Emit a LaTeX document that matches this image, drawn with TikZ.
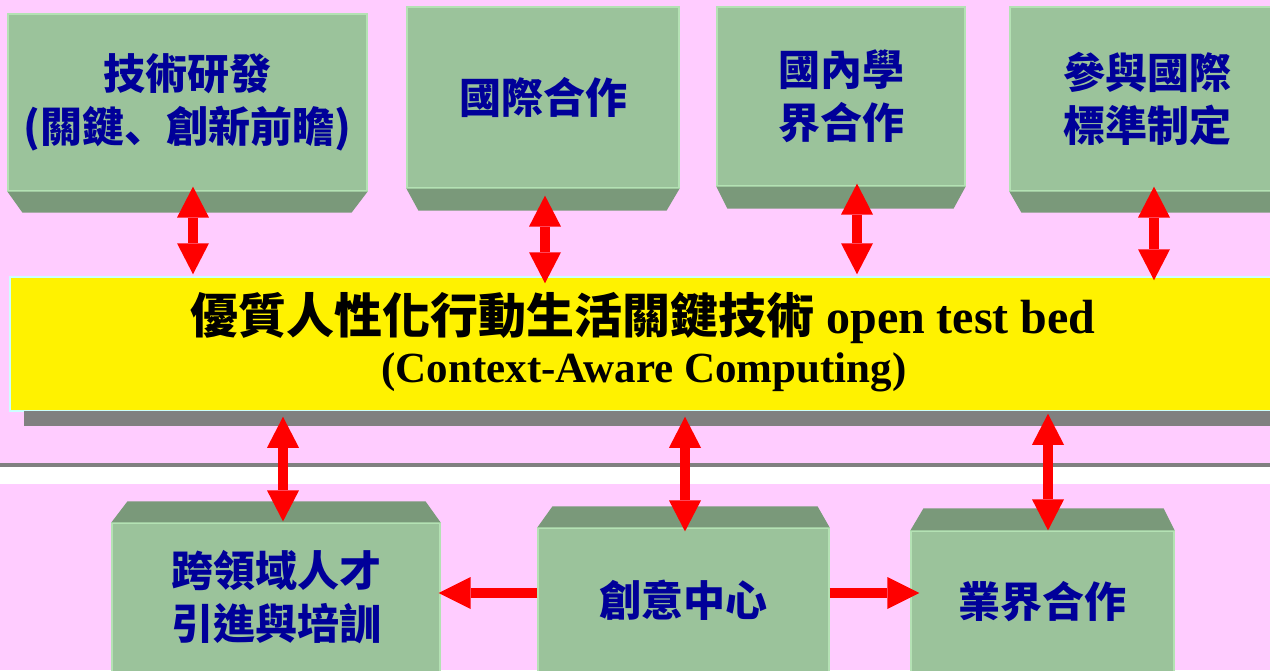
\documentclass[tikz,border=0pt]{standalone}
\usepackage{fontspec}
\setmainfont{Liberation Serif}
\newfontfamily\cjk{Noto Sans CJK TC}
\newfontfamily\cjksc{Noto Sans CJK SC}
\usetikzlibrary{arrows.meta}
\definecolor{bgpink}{RGB}{255,204,255}
\definecolor{facegreen}{RGB}{155,195,155}
\definecolor{slopegreen}{RGB}{122,153,122}
\definecolor{edgegreen}{RGB}{180,226,180}
\definecolor{navytext}{RGB}{0,0,153}
\definecolor{barborder}{RGB}{204,255,255}
\definecolor{shadegray}{RGB}{128,128,128}
\tikzset{
  face/.style={fill=facegreen, draw=edgegreen, line width=1.2pt, inner sep=0pt,
    font=\cjk\bfseries\fontsize{42}{53}\selectfont, text=navytext, align=center},
  bevel/.style={fill=slopegreen},
  vdbl/.style={draw=red, line width=10pt,
    {Triangle[width=32pt,length=31pt,line width=0pt]}-{Triangle[width=32pt,length=31pt,line width=0pt]}},
  hsgl/.style={draw=red, line width=10pt, -{Triangle[width=32pt,length=32pt,line width=0pt]}},
  titlebar/.style={fill=yellow, draw=barborder, line width=1.5pt, inner sep=0pt},
}
\begin{document}
\begin{tikzpicture}[x=1pt,y=-1pt]
\useasboundingbox (0,0) rectangle (1270,670);
\clip (0,0) rectangle (1270,670);
% background
\fill[bgpink] (0,0) rectangle (1270,670);
\fill[shadegray] (0,463) rectangle (1270,467);
\fill[white] (0,467) rectangle (1270,484);

% top boxes
\node[face, minimum width=359pt, minimum height=177pt] (t1) at (187.5,102.5) {技術研發\\(關鍵{\cjksc\bfseries 、}創新前瞻)};
\fill[bevel] (t1.south west) -- (t1.south east) -- ([xshift=-16pt,yshift=-21pt]t1.south east) -- ([xshift=15pt,yshift=-21pt]t1.south west) -- cycle;
\node[face, minimum width=272pt, minimum height=181pt] (t2) at (543,97.5) {國際合作};
\fill[bevel] (t2.south west) -- (t2.south east) -- ([xshift=-13pt,yshift=-22pt]t2.south east) -- ([xshift=12pt,yshift=-22pt]t2.south west) -- cycle;
\node[face, minimum width=248pt, minimum height=179pt] (t3) at (841,96.5) {國內學\\界合作};
\fill[bevel] (t3.south west) -- (t3.south east) -- ([xshift=-12pt,yshift=-22pt]t3.south east) -- ([xshift=11pt,yshift=-22pt]t3.south west) -- cycle;
\node[face, minimum width=274pt, minimum height=184pt] (t4) at (1147,99) {參與國際\\標準制定};
\fill[bevel] (t4.south west) -- (t4.south east) -- ([xshift=-12pt,yshift=-21pt]t4.south east) -- ([xshift=12pt,yshift=-21pt]t4.south west) -- cycle;

% title bar
\node[titlebar, minimum width=1266pt, minimum height=134pt] (bar) at (643,344) {};
\fill[shadegray] (24,411) rectangle (1270,426);
\node[anchor=base, inner sep=0pt, font=\fontsize{48}{56}\selectfont] (title1) at (643,333)
  {{\cjk\bfseries 優質人性化行動生活關鍵技術} \textbf{open test bed}};
\node[anchor=base, inner sep=0pt, font=\fontsize{43}{50}\selectfont\bfseries] (title2) at (644,382)
  {(Context-Aware Computing)};

% bottom boxes
\node[face, minimum width=328pt, minimum height=149pt] (b1) at (276,597.5) {跨領域人才\\引進與培訓};
\fill[bevel] (b1.north west) -- (b1.north east) -- ([xshift=-15pt,yshift=21pt]b1.north east) -- ([xshift=16pt,yshift=21pt]b1.north west) -- cycle;
\node[face, minimum width=291pt, minimum height=144pt] (b2) at (683.5,600) {創意中心};
\fill[bevel] (b2.north west) -- (b2.north east) -- ([xshift=-12pt,yshift=21pt]b2.north east) -- ([xshift=15pt,yshift=21pt]b2.north west) -- cycle;
\node[face, minimum width=263pt, minimum height=142pt] (b3) at (1042.5,602) {業界合作};
\fill[bevel] (b3.north west) -- (b3.north east) -- ([xshift=-11pt,yshift=22pt]b3.north east) -- ([xshift=13pt,yshift=22pt]b3.north west) -- cycle;

% connectors
\draw[vdbl] ([yshift=5pt]t1.south -| 193,0) -- ([yshift=2pt]bar.north -| 193,0);
\draw[vdbl] ([yshift=-7pt]t2.south -| 545,0) -- ([yshift=-7pt]bar.north -| 545,0);
\draw[vdbl] ([yshift=3pt]t3.south -| 857,0) -- ([yshift=2pt]bar.north -| 857,0);
\draw[vdbl] ([yshift=5pt]t4.south -| 1154,0) -- ([yshift=-4pt]bar.north -| 1154,0);
\draw[vdbl] ([yshift=-5pt]bar.south -| 283,0) -- ([yshift=1pt]b1.north -| 283,0);
\draw[vdbl] ([yshift=-5pt]bar.south -| 685,0) -- ([yshift=-4pt]b2.north -| 685,0);
\draw[vdbl] ([yshift=-2pt]bar.south -| 1048,0) -- (b3.north -| 1048,0);
\draw[hsgl] (b2.west |- 0,593) -- ([xshift=-2pt]b1.east |- 0,593);
\draw[hsgl] (b2.east |- 0,593) -- ([xshift=9pt]b3.west |- 0,593);
\end{tikzpicture}
\end{document}
